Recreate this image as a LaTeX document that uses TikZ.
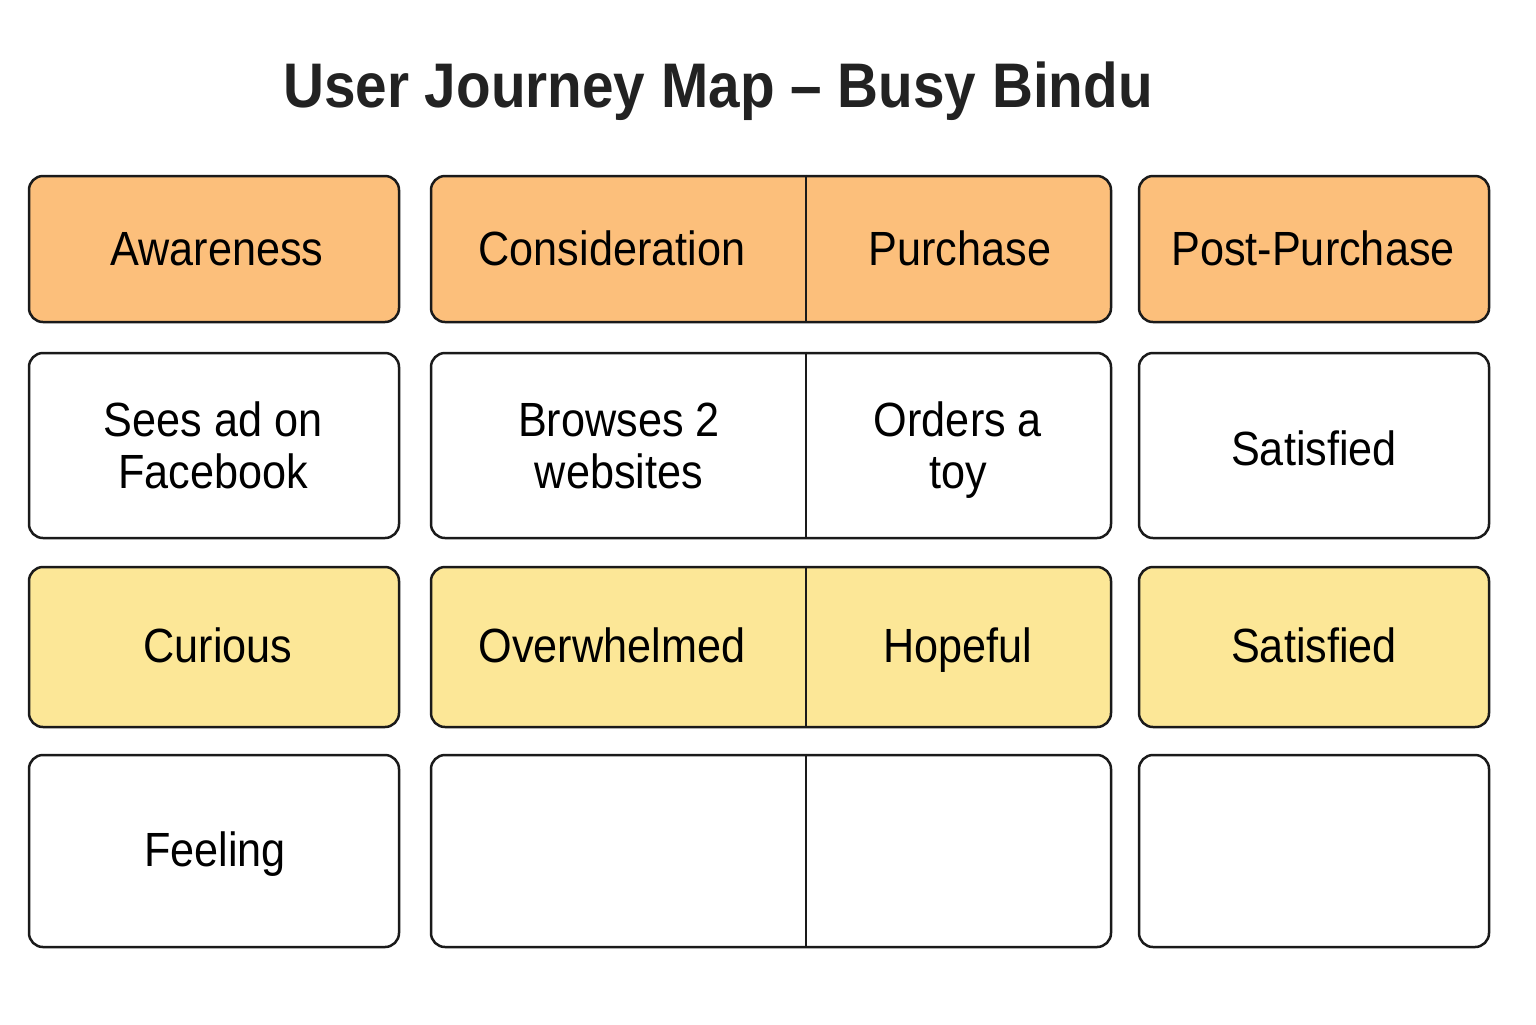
\documentclass[tikz,border=0pt]{standalone}
\usepackage{fontspec}
\setmainfont{Liberation Sans}[FakeStretch=0.9]
\definecolor{stageorange}{HTML}{FCBF7B}
\definecolor{feelyellow}{HTML}{FCE797}
\definecolor{inkline}{HTML}{1A1A1A}
\definecolor{titleink}{HTML}{222222}
\begin{document}
\begin{tikzpicture}[x=0.5pt,y=-0.5pt,
  cell/.style={draw=inkline,line width=1.25pt,rounded corners=7pt,inner sep=0pt,rectangle},
  lbl/.style={font=\fontsize{24}{26}\selectfont,align=center,text=black,inner sep=0pt},
  divider/.style={draw=inkline,line width=1.1pt}]
\useasboundingbox[fill=white] (0,0) rectangle (1536,1024);
\node[font=\fontsize{31.5}{34}\selectfont\bfseries,text=titleink,anchor=base] (title) at (718,107) {User Journey Map – Busy Bindu};
% row 1: stages
\node[cell,fill=stageorange,minimum width=185pt,minimum height=73pt] (a1) at (214,249) {};
\node[cell,fill=stageorange,minimum width=340pt,minimum height=73pt] (b1) at (771,249) {};
\node[cell,fill=stageorange,minimum width=175pt,minimum height=73pt] (c1) at (1314,249) {};
% row 2: actions
\node[cell,fill=white,minimum width=185pt,minimum height=92.5pt] (a2) at (214,445.5) {};
\node[cell,fill=white,minimum width=340pt,minimum height=92.5pt] (b2) at (771,445.5) {};
\node[cell,fill=white,minimum width=175pt,minimum height=92.5pt] (c2) at (1314,445.5) {};
% row 3: emotions
\node[cell,fill=feelyellow,minimum width=185pt,minimum height=80pt] (a3) at (214,647) {};
\node[cell,fill=feelyellow,minimum width=340pt,minimum height=80pt] (b3) at (771,647) {};
\node[cell,fill=feelyellow,minimum width=175pt,minimum height=80pt] (c3) at (1314,647) {};
% row 4
\node[cell,fill=white,minimum width=185pt,minimum height=96pt] (a4) at (214,851) {};
\node[cell,fill=white,minimum width=340pt,minimum height=96pt] (b4) at (771,851) {};
\node[cell,fill=white,minimum width=175pt,minimum height=96pt] (c4) at (1314,851) {};
% dividers in column 2
\foreach \r in {b1,b2,b3,b4}{
  \draw[divider] (\r.north -| 806,0) -- (\r.south -| 806,0);
}
% labels
\node[lbl] (t11) at (217,255) {\strut Awareness};
\node[lbl] (t12) at (612,255) {\strut Consideration};
\node[lbl] (t13) at (960,255) {\strut Purchase};
\node[lbl] (t14) at (1313,255) {\strut Post-Purchase};
\node[lbl] (t21) at (213,452) {\strut Sees ad on\\ \strut Facebook};
\node[lbl] (t22) at (619,452) {\strut Browses 2\\ \strut websites};
\node[lbl] (t23) at (958,452) {\strut Orders a\\ \strut toy};
\node[lbl] (t24) at (1314,455) {\strut Satisfied};
\node[lbl] (t31) at (218,652) {\strut Curious};
\node[lbl] (t32) at (612,652) {\strut Overwhelmed};
\node[lbl] (t33) at (958,652) {\strut Hopeful};
\node[lbl] (t34) at (1314,652) {\strut Satisfied};
\node[lbl] (t41) at (215,856) {\strut Feeling};
\end{tikzpicture}
\end{document}
